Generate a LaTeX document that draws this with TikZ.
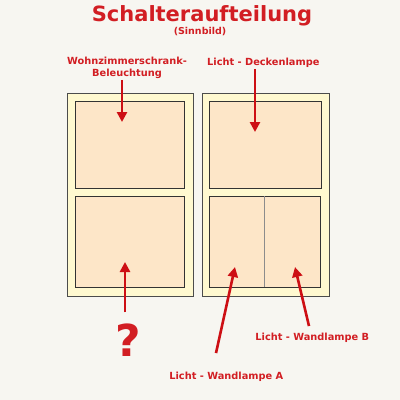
\documentclass[tikz,border=0pt]{standalone}
\usepackage{fontspec}
\setmainfont{DejaVu Sans}
\usetikzlibrary{arrows.meta}

\definecolor{hintergrund}{RGB}{247,246,241}
\definecolor{rot}{RGB}{210,30,35}
\definecolor{pfeilrot}{RGB}{205,15,20}
\definecolor{platte}{RGB}{255,249,208}
\definecolor{feld}{RGB}{253,230,200}

\begin{document}
\begin{tikzpicture}[x = 1pt , y = -1pt ,
		platte/.style = { draw = black!70 , fill = platte , line width = 0.8pt , inner sep = 0pt , outer sep = 0pt } ,
		feld/.style = { draw = black!80 , fill = feld , line width = 0.8pt , inner sep = 0pt , outer sep = 0pt } ,
		beschriftung/.style = { text = rot , font = \bfseries\fontsize{9.8}{12}\selectfont , align = center , inner sep = 1pt } ,
		pfeil/.style = { draw = pfeilrot , line width = 2.6pt , -{Triangle[width = 10pt , length = 10pt]} } ]
	\fill[hintergrund] (0,0) rectangle (400,400) ;
	% Ueberschrift
	\node[text = rot , font = \bfseries\fontsize{21}{24}\selectfont] (titel) at (202,16) { Schalteraufteilung } ;
	\node[text = rot , font = \bfseries\fontsize{9.5}{10}\selectfont] (sinnbild) at (200,32) { (Sinnbild) } ;
	% linker Schalter
	\node[platte , minimum width = 126pt , minimum height = 203pt] (lplatte) at (130,194.5) {} ;
	\node[feld , minimum width = 109pt , minimum height = 87pt] (loben) at (129.5,144.5) {} ;
	\node[feld , minimum width = 109pt , minimum height = 91pt] (lunten) at (129.5,241.5) {} ;
	% rechter Schalter
	\node[platte , minimum width = 127pt , minimum height = 203pt] (rplatte) at (265.5,194.5) {} ;
	\node[feld , minimum width = 112pt , minimum height = 87pt] (roben) at (265,144.5) {} ;
	\node[feld , minimum width = 111pt , minimum height = 91pt] (runten) at (264.5,241.5) {} ;
	\draw[black!45 , line width = 1pt] (runten.north) -- (runten.south) ;
	% Beschriftungen
	\node[beschriftung] (wohn) at (127,68) { Wohnzimmerschrank-\\Beleuchtung } ;
	\node[beschriftung] (decke) at (265,63) { Licht - Deckenlampe } ;
	\node[text = rot , font = \bfseries\fontsize{44}{44}\selectfont , inner sep = 0pt] (frage) at (128,340) { ? } ;
	\node[beschriftung] (wandb) at (314,338) { Licht - Wandlampe B } ;
	\node[beschriftung] (wanda) at (228,377) { Licht - Wandlampe A } ;
	% Pfeilspitzen
	\coordinate (lospitze) at (122,122) ;
	\coordinate (luspitze) at (125,262) ;
	\coordinate (rospitze) at (255,132) ;
	\coordinate (aspitze) at (235,267) ;
	\coordinate (bspitze) at (295,267) ;
	% Pfeile
	\draw[pfeil] (wohn.south -| lospitze) -- (lospitze) ;
	\draw[pfeil] (decke.south -| rospitze) -- (rospitze) ;
	\draw[pfeil] ([yshift = 11pt]frage.north -| luspitze) -- (luspitze) ;
	\draw[pfeil] ([xshift = -12pt , yshift = 18pt]wanda.north) -- (aspitze) ;
	\draw[pfeil] ([xshift = -5pt , yshift = 6pt]wandb.north) -- (bspitze) ;
\end{tikzpicture}
\end{document}
